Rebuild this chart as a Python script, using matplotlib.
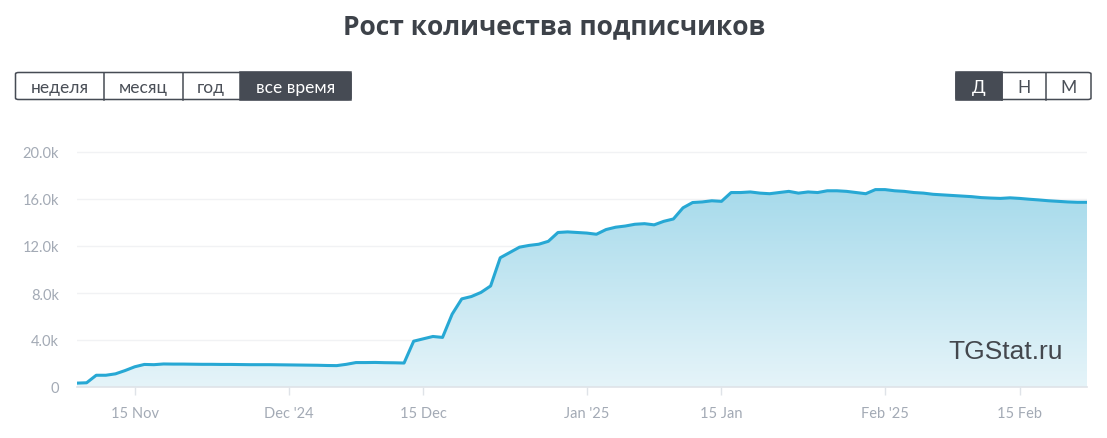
import numpy as np
import pandas as pd
import matplotlib
matplotlib.use("Agg")
from matplotlib import pyplot as plt
from matplotlib.patches import FancyBboxPatch, Rectangle
from matplotlib.ticker import FuncFormatter

# subscribers, thousands, one value per day from 9 Nov 2024
subscribers_k = [
    0.33, 0.36, 1.0, 1.0, 1.12, 1.4, 1.72, 1.92, 1.9, 1.96,
    1.95, 1.95, 1.94, 1.93, 1.93, 1.92, 1.92, 1.91, 1.9, 1.9,
    1.9, 1.89, 1.88, 1.87, 1.86, 1.85, 1.83, 1.82, 1.93, 2.08,
    2.08, 2.09, 2.07, 2.06, 2.04, 3.9, 4.1, 4.3, 4.22, 6.2,
    7.5, 7.7, 8.05, 8.6, 11.0, 11.45, 11.9, 12.05, 12.15, 12.4,
    13.15, 13.2, 13.15, 13.1, 13.0, 13.4, 13.6, 13.7, 13.85, 13.9,
    13.8, 14.1, 14.3, 15.25, 15.7, 15.75, 15.85, 15.8, 16.55, 16.55,
    16.6, 16.5, 16.45, 16.55, 16.65, 16.5, 16.6, 16.55, 16.7, 16.7,
    16.65, 16.55, 16.45, 16.8, 16.8, 16.7, 16.65, 16.55, 16.5, 16.4,
    16.35, 16.3, 16.25, 16.2, 16.12, 16.08, 16.05, 16.1, 16.05, 15.98,
    15.92, 15.85, 15.8, 15.75, 15.72, 15.72,
]
dates = pd.date_range("2024-11-09", periods=len(subscribers_k), freq="D")
values = np.array(subscribers_k) * 1000

tick_dates = pd.to_datetime(["2024-11-15", "2024-12-01", "2024-12-15", "2025-01-01",
                             "2025-01-15", "2025-02-01", "2025-02-15"])
tick_labels = ["15 Nov", "Dec '24", "15 Dec", "Jan '25", "15 Jan", "Feb '25", "15 Feb"]
y_ticks = [0, 4000, 8000, 12000, 16000, 20000]

range_buttons = ["неделя", "месяц", "год", "все время"]
range_edges = [15.5, 103.5, 182.5, 239.5, 351]
step_buttons = ["Д", "Н", "М"]
step_edges = [956, 1001.5, 1045.5, 1091]

W, H = 1107, 439
dark = "#464b54"
grey = "#a3aab5"
line_col = "#27a8d4"

fig = plt.figure(figsize=(W / 100, H / 100), dpi=100)

def fx(x):
    return x / W

def fy(y):
    return 1 - y / H

fig.text(fx(554), fy(27), "Рост количества подписчиков", ha="center", va="center",
         fontsize=19, fontweight="bold", color="#3d4249", family="Open Sans")

def button_group(labels, edges, active, top=73.5, bottom=100.5):
    x0, x1 = edges[0], edges[-1]
    box = FancyBboxPatch((fx(x0), fy(bottom)), fx(x1 - x0), (bottom - top) / H,
                         boxstyle="round,pad=0,rounding_size=0.003",
                         transform=fig.transFigure, facecolor="white",
                         edgecolor=dark, linewidth=1.1, zorder=1)
    fig.patches.append(box)
    for i, lab in enumerate(labels):
        a, b = edges[i], edges[i + 1]
        if i == active:
            r = Rectangle((fx(a), fy(bottom)), fx(b - a), (bottom - top) / H,
                          transform=fig.transFigure, facecolor=dark,
                          edgecolor=dark, linewidth=1.1, zorder=2)
            fig.patches.append(r)
        elif i > 0:
            fig.lines.append(plt.Line2D([fx(a), fx(a)], [fy(bottom), fy(top)],
                                        transform=fig.transFigure, color=dark,
                                        linewidth=1.1, zorder=2))
        fig.text(fx((a + b) / 2), fy((top + bottom) / 2 + 1), lab, ha="center",
                 va="center", fontsize=12.5, family="Lato",
                 color="white" if i == active else "#4a4f57", zorder=3)

button_group(range_buttons, range_edges, 3)
button_group(step_buttons, step_edges, 0)

# plot area: x 77..1087 px, y 0 at 388 px, 1k = 11.75 px
top_px = 388 - 21 * 11.75
ax = fig.add_axes([fx(77), fy(388), fx(1010), (388 - top_px) / H])
ax.set_xlim(dates[0], pd.Timestamp("2025-02-22"))
ax.set_ylim(0, 21000)

# gradient fill under the line
poly = ax.fill_between(dates, values, 0, color="none", linewidth=0)
grad = np.linspace(0, 1, 256).reshape(-1, 1)
cmap = matplotlib.colors.LinearSegmentedColormap.from_list("g", ["#e5f4f9", "#a6daeb"])
xl = ax.get_xlim()
img = ax.imshow(grad, aspect="auto", cmap=cmap, origin="lower",
                extent=[xl[0], xl[1], 0, 17000], zorder=1)
img.set_clip_path(poly.get_paths()[0], transform=ax.transData)
ax.set_xlim(xl)
ax.set_ylim(0, 21000)

ax.plot(dates, values, color=line_col, linewidth=2.2, zorder=3, solid_joinstyle="round")

ax.set_yticks(y_ticks)
ax.yaxis.set_major_formatter(FuncFormatter(lambda v, p: "0" if v == 0 else f"{v/1000:.1f}k"))
ax.set_xticks(tick_dates)
ax.set_xticklabels(tick_labels)
ax.grid(axis="y", color="#f1f2f4", linewidth=1)
ax.set_axisbelow(True)
for s in ["top", "right", "left"]:
    ax.spines[s].set_visible(False)
ax.spines["bottom"].set_color("#dfe3e8")
ax.spines["bottom"].set_linewidth(1.2)
ax.tick_params(axis="y", length=0, pad=13, labelsize=10.5, labelcolor=grey)
ax.tick_params(axis="x", length=6, width=1, color="#dfe3e8", pad=8,
               labelsize=10.5, labelcolor=grey)
for t in ax.get_xticklabels() + ax.get_yticklabels():
    t.set_family("Lato")

fig.text(fx(1063), fy(352), "TGStat.ru", ha="right", va="center", fontsize=19,
         color="#43474d", family="Liberation Sans")

fig.savefig("out.png", dpi=100)
